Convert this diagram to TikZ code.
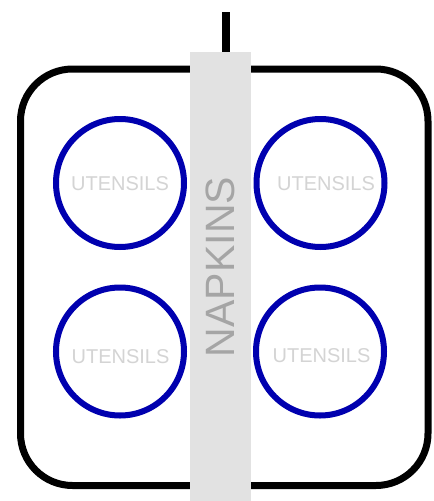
\documentclass[tikz,border=0pt]{standalone}
\usepackage{fontspec}
\setmainfont{Liberation Sans}
\definecolor{ringblue}{RGB}{0,0,175}
\definecolor{striplgray}{RGB}{226,226,226}
\definecolor{utgray}{RGB}{212,212,212}
\definecolor{napgray}{RGB}{165,165,165}
\begin{document}
\begin{tikzpicture}[x=1pt,y=-1pt,
  tray/.style={draw=black,line width=7pt,rounded corners=52pt},
  ring/.style={circle,draw=ringblue,line width=6pt,minimum size=128pt,inner sep=0pt},
  utlabel/.style={font=\fontsize{20}{20}\selectfont,text=utgray,inner sep=0pt},
  stripbox/.style={fill=striplgray,draw=none,minimum width=61pt,minimum height=449pt,inner sep=0pt,anchor=north},
  napkinlabel/.style={rotate=90,font=\fontsize{41}{41}\selectfont,text=napgray,inner sep=0pt},
  stem/.style={draw=black,line width=8pt}]
\useasboundingbox (0,0) rectangle (434,501);
\fill[white] (0,0) rectangle (434,501);
\draw[tray] (20.5,69) rectangle (428,485.5);
\node[stripbox] (strip) at (220.5,52) {};
\coordinate (stemtop) at (225.5,12);
\coordinate (stembot) at (225.5,52);
\draw[stem] (stemtop) -- (stembot);
\node[napkinlabel] (napkins) at (220.5,267) {NAPKINS};
\node[ring] (tl) at (120,183) {};
\node[ring] (tr) at (320.5,183) {};
\node[ring] (bl) at (120,351.5) {};
\node[ring] (br) at (320,351.5) {};
\node[utlabel] (tltext) at (120,183.5) {UTENSILS};
\node[utlabel] (trtext) at (326,183.5) {UTENSILS};
\node[utlabel] (bltext) at (120.5,357) {UTENSILS};
\node[utlabel] (brtext) at (321.5,356) {UTENSILS};
\end{tikzpicture}
\end{document}
